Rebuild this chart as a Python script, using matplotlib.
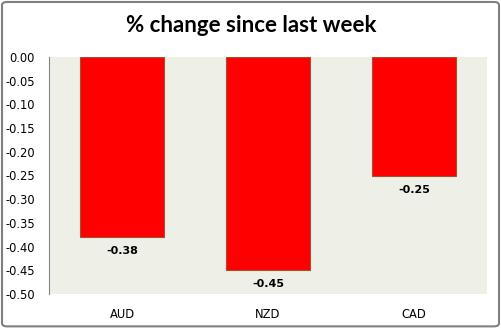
import matplotlib
matplotlib.use("Agg")
import matplotlib.pyplot as plt
from matplotlib.patches import FancyBboxPatch

categories = ["AUD", "NZD", "CAD"]
values = [-0.38, -0.45, -0.25]
yticks = [0.00, -0.05, -0.10, -0.15, -0.20, -0.25, -0.30, -0.35, -0.40, -0.45, -0.50]

fig = plt.figure(figsize=(5.02, 3.29), dpi=100)
fig.patch.set_facecolor("white")

# outer border
border = FancyBboxPatch((0.004, 0.008), 0.990, 0.986, boxstyle="round,pad=0,rounding_size=0.01",
                        transform=fig.transFigure, facecolor="none", edgecolor="#808080",
                        linewidth=1.5, zorder=5)
fig.patches.append(border)

ax = fig.add_axes([49/502, 1-294/329, (487-49)/502, (294-57)/329])
ax.set_facecolor("#EEF0E8")

x = list(range(len(categories)))
ax.bar(x, values, width=0.57, color="#FF0000", edgecolor="#A0522D", linewidth=0.8, zorder=2)

for xi, v in zip(x, values):
    ax.text(xi, v - 0.019, f"{v:.2f}", ha="center", va="top", fontsize=8,
            fontweight="bold", family="DejaVu Sans", color="black")

ax.set_xlim(-0.5, len(categories) - 0.5)
ax.set_ylim(-0.50, 0.00)
ax.set_yticks(yticks)
ax.set_yticklabels([f"{t:.2f}" for t in yticks], fontsize=8.3, family="DejaVu Sans")
ax.set_xticks(x)
ax.set_xticklabels(categories, fontsize=8.3, family="DejaVu Sans")
ax.tick_params(axis="both", length=0)
ax.tick_params(axis="y", pad=10)
ax.tick_params(axis="x", pad=10)

for s in ["top", "right", "bottom"]:
    ax.spines[s].set_visible(False)
ax.spines["left"].set_color("#868686")
ax.spines["left"].set_linewidth(0.8)

fig.text(0.5, 1 - 25/329, "% change since last week", ha="center", va="center",
         fontsize=16, fontweight="bold", family="Lato")

fig.savefig("out.png", dpi=100)
